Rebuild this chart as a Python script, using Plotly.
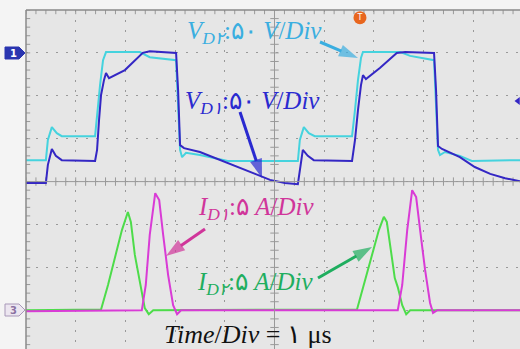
import numpy as np
import plotly.graph_objects as go

# Time axis in µs (1 µs per division); vertical values in screen divisions.
vd1_t = [0, 0.40, 0.44, 0.52, 0.60, 0.72, 1.39, 1.43, 1.47, 1.51, 1.57, 1.61, 1.67, 1.99, 2.35, 2.49,
         3.02, 3.06, 3.10, 3.18, 3.50, 3.90, 4.31, 4.61, 4.91, 5.21, 5.47, 5.51, 5.57, 5.67, 5.79,
         6.56, 6.62, 6.68, 6.74, 6.78, 6.84, 7.12, 7.46, 7.63, 8.21, 8.25, 8.29, 8.37, 8.73, 9.03,
         9.34, 9.64, 9.94]
vd1_div = [3.97, 3.97, 4.39, 4.76, 4.60, 4.50, 4.48, 4.74, 5.44, 6.02, 6.37, 6.53, 6.41, 6.60, 7.00, 7.04,
           7.00, 6.14, 4.85, 4.78, 4.69, 4.50, 4.32, 4.18, 4.04, 3.97, 3.94, 4.27, 4.74, 4.60, 4.50,
           4.48, 4.97, 5.67, 6.25, 6.48, 6.39, 6.65, 7.00, 7.02, 7.00, 6.14, 4.83, 4.76, 4.57, 4.34,
           4.18, 4.08, 4.01]

vd2_t = [0, 0.40, 0.44, 0.52, 0.62, 0.72, 1.39, 1.43, 1.49, 1.55, 1.61, 2.29, 2.49, 3.02, 3.06, 3.10,
         3.14, 3.22, 3.50, 3.80, 4.06, 5.47, 5.51, 5.59, 5.69, 5.81, 6.56, 6.62, 6.68, 6.74, 6.78,
         7.53, 7.73, 8.21, 8.25, 8.29, 8.33, 8.43, 8.73, 8.97, 9.94]
vd2_div = [4.50, 4.50, 4.97, 5.27, 5.13, 5.06, 5.06, 5.55, 6.25, 6.83, 7.02, 7.02, 6.90, 6.83, 5.90, 4.74,
           4.57, 4.67, 4.62, 4.55, 4.48, 4.48, 4.97, 5.27, 5.13, 5.06, 5.06, 5.67, 6.37, 6.88, 7.02,
           7.02, 6.93, 6.83, 5.90, 4.74, 4.62, 4.69, 4.60, 4.48, 4.50]

id2_t = [0, 1.51, 1.65, 1.79, 1.93, 2.05, 2.11, 2.19, 2.25, 2.31, 2.39, 2.47, 2.56,
         6.66, 6.80, 6.96, 7.10, 7.20, 7.26, 7.34, 7.42, 7.48, 7.57, 7.65, 7.73, 9.94]
id2_div = [1.00, 1.02, 1.59, 2.22, 2.87, 3.29, 3.06, 2.29, 1.89, 1.59, 1.05, 0.91, 1.00,
           1.02, 1.59, 2.29, 2.87, 3.18, 3.06, 2.41, 1.75, 1.54, 1.12, 0.91, 1.00, 1.00]

id1_t = [0, 2.33, 2.41, 2.49, 2.60, 2.68, 2.76, 2.86, 2.96, 3.04, 3.12,
         7.48, 7.57, 7.67, 7.77, 7.85, 7.93, 8.03, 8.13, 8.19, 8.27, 9.94]
id1_div = [0.98, 1.00, 1.59, 2.76, 3.73, 3.57, 2.76, 1.82, 1.12, 0.91, 1.00,
           1.00, 1.59, 2.87, 3.80, 3.64, 2.87, 1.94, 1.17, 0.94, 1.00, 1.00]

label_vd2 = "<i>V<sub>D۲</sub></i>:۵۰ <i>V</i>/<i>Div</i>"
label_vd1 = "<i>V<sub>D۱</sub></i>:۵۰ <i>V</i>/<i>Div</i>"
label_id1 = "<i>I<sub>D۱</sub></i>:۵ <i>A</i>/<i>Div</i>"
label_id2 = "<i>I<sub>D۲</sub></i>:۵ <i>A</i>/<i>Div</i>"
label_time = "<i>Time</i>/<i>Div</i> = ۱ μs"

W, H = 520, 349
ML, MT = 26, 10
PW, PH = W - ML, H - MT
DX, DY = 49.7, 42.9          # pixels per division
X_MAX = PW / DX
Y_MIN = 8 - PH / DY


def px(x, y):
    """Pixel position on the page -> paper coordinates."""
    return (x - ML) / PW, (H - y) / PH


def pd(x, y):
    """Pixel position on the page -> data coordinates (µs, divisions)."""
    return (x - ML) / DX, 8 - (y - MT) / DY


C_CYAN, C_BLUE, C_GREEN, C_MAG = "#45d3de", "#3427c4", "#4ddc4a", "#d93bd6"
GRID = "#999999"

fig = go.Figure()

# graticule tick marks along the centre cross and the border
tx = np.arange(0, 10.01, 0.2)
ty = np.arange(0, 8.01, 0.2)
for xs, ys, sym in [(tx, [4] * len(tx), "line-ns"), ([5] * len(ty), ty, "line-ew"),
                    ([0] * len(ty), ty, "line-ew"), (tx, [8] * len(tx), "line-ns")]:
    fig.add_trace(go.Scatter(x=xs, y=ys, mode="markers",
                             marker=dict(symbol=sym, size=6, line=dict(color=GRID, width=1)),
                             hoverinfo="skip", showlegend=False))

fig.add_trace(go.Scatter(x=vd2_t, y=vd2_div, mode="lines", line=dict(color=C_CYAN, width=2),
                         showlegend=False))
fig.add_trace(go.Scatter(x=vd1_t, y=vd1_div, mode="lines", line=dict(color=C_BLUE, width=2),
                         showlegend=False))
fig.add_trace(go.Scatter(x=id2_t, y=id2_div, mode="lines", line=dict(color=C_GREEN, width=2),
                         showlegend=False))
fig.add_trace(go.Scatter(x=id1_t, y=id1_div, mode="lines", line=dict(color=C_MAG, width=2),
                         showlegend=False))

# trigger marker and level indicator
fig.add_trace(go.Scatter(x=[6.72], y=[7.82], mode="markers+text", text=["T"],
                         textfont=dict(color="white", size=8, family="DejaVu Sans"),
                         textposition="middle center",
                         marker=dict(symbol="circle", size=13, color="#e8661e"),
                         cliponaxis=False, showlegend=False, hoverinfo="skip"))
fig.add_trace(go.Scatter(x=[9.9], y=[5.88], mode="markers",
                         marker=dict(symbol="triangle-left", size=7, color=C_BLUE),
                         cliponaxis=False, showlegend=False, hoverinfo="skip"))

# callout arrows pointing at the traces
for (hx, hy), (sx, sy), col in [((358, 58), (320, 42), "#3aaee0"),
                                ((262, 178), (240, 112), "#2a2ad0"),
                                ((166, 256), (205, 229), "#d0359a"),
                                ((372, 247), (318, 278), "#1fae5f")]:
    t0, v0 = pd(sx, sy)
    t1, v1 = pd(hx, hy)
    fig.add_trace(go.Scatter(x=[t0, t1], y=[v0, v1], mode="lines+markers",
                             line=dict(color=col, width=3),
                             marker=dict(symbol="arrow", size=[0, 20], color=col,
                                         angleref="previous", line=dict(width=0)),
                             cliponaxis=False, showlegend=False, hoverinfo="skip"))

shapes = [
    dict(type="line", xref="x", yref="y", x0=5, x1=5, y0=Y_MIN, y1=8, line=dict(color=GRID, width=1)),
    dict(type="line", xref="x", yref="y", x0=0, x1=X_MAX, y0=4, y1=4, line=dict(color=GRID, width=1)),
    dict(type="line", xref="paper", yref="paper", x0=0, x1=0, y0=0, y1=1,
         line=dict(color="#8a8a8a", width=1.5)),
    dict(type="line", xref="paper", yref="paper", x0=0, x1=1, y0=1, y1=1,
         line=dict(color="#8a8a8a", width=1.5)),
]


def channel_tag(yc, fill, edge):
    pts = [px(5, yc - 6), px(19, yc - 6), px(25, yc), px(19, yc + 6), px(5, yc + 6)]
    path = "M " + " L ".join(f"{a},{b}" for a, b in pts) + " Z"
    return dict(type="path", xref="paper", yref="paper", path=path, layer="below",
                fillcolor=fill, line=dict(color=edge, width=1))


shapes.append(channel_tag(53, "#2a35b0", "#2a35b0"))
shapes.append(channel_tag(310, "#ece6f0", "#a898b8"))

annotations = []
for txt, (x, y), col in [("1", px(13, 53), "white"), ("3", px(13, 310), "#8a72a2")]:
    annotations.append(dict(text=f"<b>{txt}</b>", x=x, y=y, xref="paper", yref="paper",
                            showarrow=False, xanchor="center", yanchor="middle",
                            font=dict(size=10, color=col, family="DejaVu Sans")))

FONT = "Liberation Serif"
for txt, (x, y), col in [(label_vd2, px(185, 33), "#3aaee0"),
                         (label_vd1, px(183, 102), "#2a2ad0"),
                         (label_id1, px(196, 208), "#d0359a"),
                         (label_id2, px(195, 283), "#1fae5f")]:
    annotations.append(dict(text=txt, x=x, y=y, xref="paper", yref="paper", showarrow=False,
                            xanchor="left", yanchor="middle",
                            font=dict(size=25, color=col, family=FONT)))

annotations.append(dict(text=label_time, x=px(248, 334)[0], y=px(248, 334)[1], xref="paper",
                        yref="paper", showarrow=False, xanchor="center", yanchor="middle",
                        font=dict(size=26, color="#111111", family=FONT)))

fig.update_layout(
    width=W, height=H,
    margin=dict(l=ML, r=0, t=MT, b=0),
    paper_bgcolor="#f4f4f4", plot_bgcolor="#e6e6e6",
    shapes=shapes, annotations=annotations,
    xaxis=dict(range=[0, X_MAX], tick0=0, dtick=1, showgrid=True, gridcolor=GRID,
               griddash="2px,8px", gridwidth=1, zeroline=False, showticklabels=False,
               ticks="", showline=False),
    yaxis=dict(range=[Y_MIN, 8], tick0=0, dtick=1, showgrid=True, gridcolor=GRID,
               griddash="2px,8px", gridwidth=1, zeroline=False, showticklabels=False,
               ticks="", showline=False),
)

fig.write_html("out.html")
